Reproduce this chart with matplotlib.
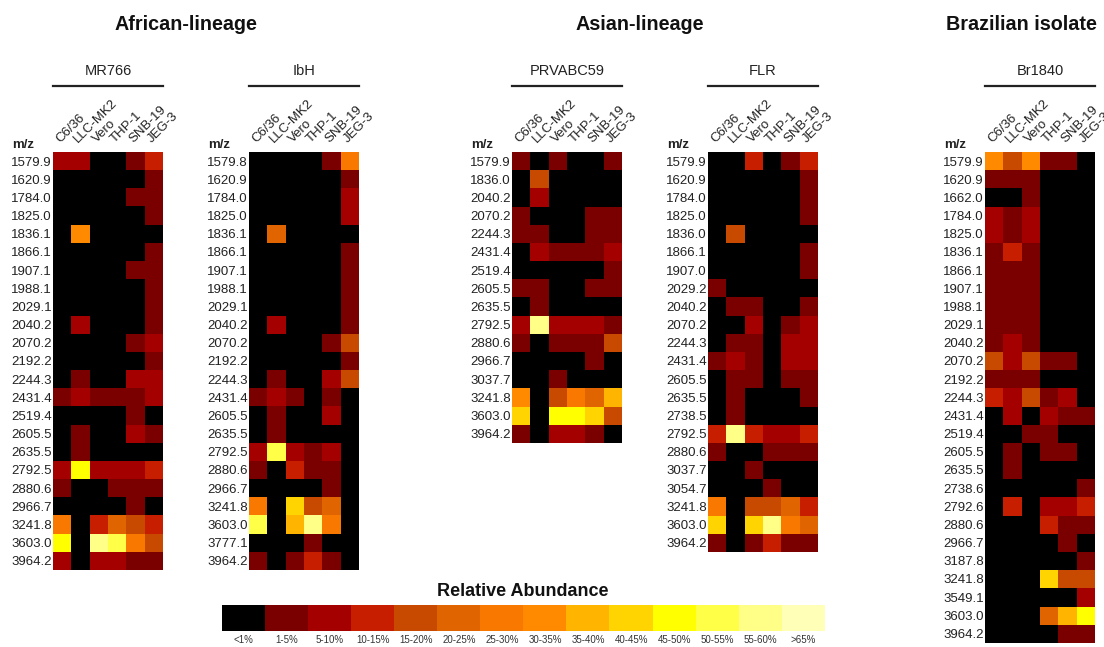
import numpy as np
import matplotlib
matplotlib.use("Agg")
import matplotlib.pyplot as plt
from matplotlib.colors import ListedColormap

plt.rcParams['font.family'] = ['Liberation Sans', 'DejaVu Sans']

# ---------------- data ----------------
cell_lines = ["C6/36", "LLC-MK2", "Vero", "THP-1", "SNB-19", "JEG-3"]

level_labels = ["<1%", "1-5%", "5-10%", "10-15%", "15-20%", "20-25%", "25-30%",
                "30-35%", "35-40%", "40-45%", "45-50%", "50-55%", "55-60%", ">65%"]
level_colors = ["#000000", "#7a0000", "#a50000", "#c81e00", "#c84a00", "#e06400",
                "#f87800", "#ff8a00", "#ffb400", "#ffd400", "#ffff00", "#ffff48",
                "#ffff88", "#ffffb8"]

mr766_mz = ["1579.9", "1620.9", "1784.0", "1825.0", "1836.1", "1866.1", "1907.1",
            "1988.1", "2029.1", "2040.2", "2070.2", "2192.2", "2244.3", "2431.4",
            "2519.4", "2605.5", "2635.5", "2792.5", "2880.6", "2966.7", "3241.8",
            "3603.0", "3964.2"]
mr766_vals = [
    [2, 2, 0, 0, 1, 3],
    [0, 0, 0, 0, 0, 1],
    [0, 0, 0, 0, 1, 1],
    [0, 0, 0, 0, 0, 1],
    [0, 7, 0, 0, 0, 0],
    [0, 0, 0, 0, 0, 1],
    [0, 0, 0, 0, 1, 1],
    [0, 0, 0, 0, 0, 1],
    [0, 0, 0, 0, 0, 1],
    [0, 2, 0, 0, 0, 1],
    [0, 0, 0, 0, 1, 2],
    [0, 0, 0, 0, 0, 1],
    [0, 1, 0, 0, 2, 2],
    [1, 2, 1, 1, 1, 2],
    [0, 0, 0, 0, 1, 0],
    [0, 1, 0, 0, 2, 1],
    [0, 1, 0, 0, 0, 0],
    [2, 10, 2, 2, 2, 3],
    [1, 0, 0, 1, 1, 1],
    [0, 0, 0, 0, 1, 0],
    [6, 0, 3, 5, 4, 3],
    [10, 0, 12, 11, 6, 4],
    [2, 0, 2, 2, 1, 1],
]

ibh_mz = ["1579.8", "1620.9", "1784.0", "1825.0", "1836.1", "1866.1", "1907.1",
          "1988.1", "2029.1", "2040.2", "2070.2", "2192.2", "2244.3", "2431.4",
          "2605.5", "2635.5", "2792.5", "2880.6", "2966.7", "3241.8", "3603.0",
          "3777.1", "3964.2"]
ibh_vals = [
    [0, 0, 0, 0, 1, 6],
    [0, 0, 0, 0, 0, 1],
    [0, 0, 0, 0, 0, 2],
    [0, 0, 0, 0, 0, 2],
    [0, 5, 0, 0, 0, 0],
    [0, 0, 0, 0, 0, 1],
    [0, 0, 0, 0, 0, 1],
    [0, 0, 0, 0, 0, 1],
    [0, 0, 0, 0, 0, 1],
    [0, 2, 0, 0, 0, 1],
    [0, 0, 0, 0, 1, 4],
    [0, 0, 0, 0, 0, 1],
    [0, 1, 0, 0, 2, 4],
    [1, 2, 1, 0, 1, 0],
    [0, 1, 0, 0, 2, 0],
    [0, 1, 0, 0, 0, 0],
    [2, 11, 2, 1, 2, 0],
    [1, 0, 3, 1, 1, 0],
    [0, 0, 0, 0, 1, 0],
    [6, 0, 9, 4, 5, 0],
    [11, 0, 8, 12, 6, 0],
    [0, 0, 0, 1, 0, 0],
    [1, 0, 1, 3, 1, 0],
]

prv_mz = ["1579.9", "1836.0", "2040.2", "2070.2", "2244.3", "2431.4", "2519.4",
          "2605.5", "2635.5", "2792.5", "2880.6", "2966.7", "3037.7", "3241.8",
          "3603.0", "3964.2"]
prv_vals = [
    [1, 0, 1, 0, 0, 1],
    [0, 4, 0, 0, 0, 0],
    [0, 2, 0, 0, 0, 0],
    [1, 0, 0, 0, 1, 1],
    [1, 1, 0, 0, 1, 1],
    [0, 2, 1, 1, 1, 2],
    [0, 0, 0, 0, 0, 1],
    [1, 1, 0, 0, 1, 1],
    [0, 1, 0, 0, 0, 0],
    [2, 12, 2, 2, 2, 1],
    [1, 0, 1, 1, 1, 4],
    [0, 0, 0, 0, 1, 0],
    [0, 0, 1, 0, 0, 0],
    [7, 0, 4, 6, 5, 8],
    [9, 0, 10, 10, 9, 4],
    [1, 0, 2, 2, 1, 0],
]

flr_mz = ["1579.9", "1620.9", "1784.0", "1825.0", "1836.0", "1866.1", "1907.0",
          "2029.2", "2040.2", "2070.2", "2244.3", "2431.4", "2605.5", "2635.5",
          "2738.5", "2792.5", "2880.6", "3037.7", "3054.7", "3241.8", "3603.0",
          "3964.2"]
flr_vals = [
    [0, 0, 3, 0, 1, 3],
    [0, 0, 0, 0, 0, 1],
    [0, 0, 0, 0, 0, 1],
    [0, 0, 0, 0, 0, 1],
    [0, 4, 0, 0, 0, 0],
    [0, 0, 0, 0, 0, 1],
    [0, 0, 0, 0, 0, 1],
    [1, 0, 0, 0, 0, 0],
    [0, 1, 1, 0, 0, 1],
    [0, 0, 2, 0, 1, 2],
    [0, 1, 1, 0, 2, 2],
    [1, 2, 1, 0, 2, 2],
    [0, 1, 1, 0, 1, 1],
    [0, 1, 0, 0, 0, 1],
    [0, 1, 0, 0, 0, 0],
    [3, 12, 3, 2, 2, 3],
    [1, 0, 0, 1, 1, 1],
    [0, 0, 1, 0, 0, 0],
    [0, 0, 0, 1, 0, 0],
    [6, 0, 4, 4, 5, 3],
    [9, 0, 9, 12, 6, 5],
    [1, 0, 1, 3, 1, 1],
]

br_mz = ["1579.9", "1620.9", "1662.0", "1784.0", "1825.0", "1836.1", "1866.1",
         "1907.1", "1988.1", "2029.1", "2040.2", "2070.2", "2192.2", "2244.3",
         "2431.4", "2519.4", "2605.5", "2635.5", "2738.6", "2792.6", "2880.6",
         "2966.7", "3187.8", "3241.8", "3549.1", "3603.0", "3964.2"]
br_vals = [
    [7, 4, 7, 1, 1, 0],
    [1, 1, 1, 0, 0, 0],
    [0, 0, 1, 0, 0, 0],
    [2, 1, 2, 0, 0, 0],
    [2, 1, 2, 0, 0, 0],
    [1, 3, 1, 0, 0, 0],
    [1, 1, 1, 0, 0, 0],
    [1, 1, 1, 0, 0, 0],
    [1, 1, 1, 0, 0, 0],
    [1, 1, 1, 0, 0, 0],
    [1, 2, 1, 0, 0, 0],
    [4, 2, 4, 1, 1, 0],
    [1, 1, 1, 0, 0, 0],
    [3, 2, 4, 1, 2, 0],
    [0, 2, 0, 2, 1, 1],
    [0, 0, 1, 1, 0, 0],
    [0, 1, 0, 1, 1, 0],
    [0, 1, 0, 0, 0, 0],
    [0, 0, 0, 0, 0, 1],
    [0, 3, 0, 2, 2, 3],
    [0, 0, 0, 3, 1, 1],
    [0, 0, 0, 0, 1, 0],
    [0, 0, 0, 0, 0, 1],
    [0, 0, 0, 9, 4, 4],
    [0, 0, 0, 0, 0, 2],
    [0, 0, 0, 5, 8, 10],
    [0, 0, 0, 0, 1, 1],
]

strains = ["MR766", "IbH", "PRVABC59", "FLR", "Br1840"]
groups = ["African-lineage", "Asian-lineage", "Brazilian isolate"]

# ---------------- layout ----------------
W, H = 1104, 647
fig = plt.figure(figsize=(W / 100, H / 100), dpi=100)
cmap = ListedColormap(level_colors)

cell_w = 18.3
cell_h = 18.17
top_px = 152

panels = [
    (strains[0], mr766_mz, mr766_vals, 53),
    (strains[1], ibh_mz, ibh_vals, 249),
    (strains[2], prv_mz, prv_vals, 512),
    (strains[3], flr_mz, flr_vals, 708),
    (strains[4], br_mz, br_vals, 985),
]

for name, mz, vals, x0 in panels:
    data = np.array(vals)
    nrow = len(mz)
    w_px = cell_w * 6
    h_px = cell_h * nrow
    ax = fig.add_axes([x0 / W, 1 - (top_px + h_px) / H, w_px / W, h_px / H])
    ax.imshow(data, cmap=cmap, vmin=-0.5, vmax=len(level_colors) - 0.5,
              aspect='auto', interpolation='nearest')
    ax.set_yticks(range(nrow))
    ax.set_yticklabels(mz, fontsize=9.5, color='#222222')
    ax.set_xticks(range(6))
    ax.xaxis.tick_top()
    ax.set_xticklabels(cell_lines, fontsize=9.5, rotation=45, ha='left',
                       va='bottom', rotation_mode='anchor', color='#222222')
    ax.tick_params(length=0, pad=1)
    ax.tick_params(axis='x', pad=5)
    for s in ax.spines.values():
        s.set_visible(False)
    # m/z header
    fig.text((x0 - 41) / W, 1 - 145 / H, "m/z", fontsize=9.5, ha='left',
             va='center', color='#222222', fontweight='bold')
    # strain name and underline
    cx = x0 + w_px / 2
    fig.text(cx / W, 1 - 71 / H, name, fontsize=10.5, ha='center', va='center',
             color='#222222')
    fig.add_artist(plt.Line2D([x0 / W, (x0 + w_px) / W], [1 - 86 / H, 1 - 86 / H],
                              color='#222222', lw=1.6))

fig.text(186 / W, 1 - 24 / H, groups[0], fontsize=14.2, fontweight='bold',
         ha='center', va='center', color='#111111')
fig.text(640 / W, 1 - 24 / H, groups[1], fontsize=14.2, fontweight='bold',
         ha='center', va='center', color='#111111')
fig.text(1021 / W, 1 - 24 / H, groups[2], fontsize=14.2, fontweight='bold',
         ha='center', va='center', color='#111111')

# ---------------- legend bar ----------------
cb_x0, cb_x1 = 222, 825
cb_y0, cb_y1 = 605, 631
cax = fig.add_axes([cb_x0 / W, 1 - cb_y1 / H, (cb_x1 - cb_x0) / W, (cb_y1 - cb_y0) / H])
cax.imshow(np.arange(len(level_colors))[None, :], cmap=cmap, vmin=-0.5,
           vmax=len(level_colors) - 0.5, aspect='auto', interpolation='nearest')
cax.set_yticks([])
cax.set_xticks(range(len(level_labels)))
cax.set_xticklabels(level_labels, fontsize=7, color='#333333')
cax.tick_params(length=0, pad=3)
for s in cax.spines.values():
    s.set_visible(False)
fig.text(523 / W, 1 - 591 / H, "Relative Abundance", fontsize=13, fontweight='bold',
         ha='center', va='center', color='#111111')

fig.savefig("out.png", dpi=100, facecolor='white')
